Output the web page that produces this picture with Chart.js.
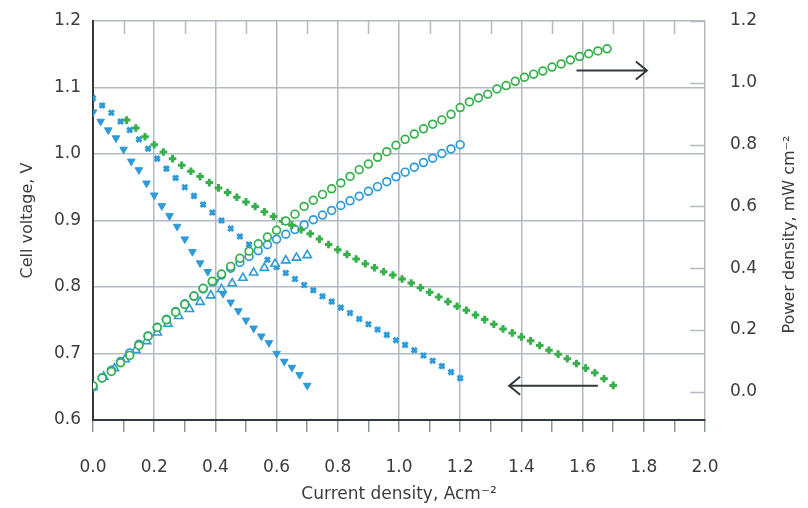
<!DOCTYPE html>
<html>
<head>
<meta charset="utf-8">
<title>Cell voltage and power density</title>
<script src="https://cdn.jsdelivr.net/npm/chart.js@4.4.1/dist/chart.umd.min.js"></script>
<style>
  html, body { margin: 0; padding: 0; background: #fff; }
  #wrap { width: 808px; height: 508px; }
</style>
</head>
<body>
<div id="wrap"><canvas id="polChart" width="808" height="508"></canvas></div>
<script>
// polarisation curves (left axis) and power curves (right axis)

// blue, filled triangles - cell voltage
const currentTriFill = [0, 0.025, 0.05, 0.075, 0.1, 0.125, 0.15, 0.175, 0.2, 0.225, 0.25, 0.275, 0.3, 0.325, 0.35,
  0.375, 0.4, 0.425, 0.45, 0.475, 0.5, 0.525, 0.55, 0.575, 0.6, 0.625, 0.65, 0.675, 0.7];
const voltageTriFill = [1.063, 1.049, 1.036, 1.024, 1.007, 0.989, 0.976, 0.956, 0.938, 0.922, 0.907, 0.891, 0.872, 0.853, 0.836,
  0.823, 0.808, 0.790, 0.777, 0.764, 0.750, 0.738, 0.726, 0.716, 0.700, 0.688, 0.679, 0.668, 0.652];

// blue, filled dots - cell voltage
const currentDotBlue = [0, 0.03, 0.06, 0.09, 0.12, 0.15, 0.18, 0.21, 0.24, 0.27, 0.3, 0.33, 0.36, 0.39, 0.42, 0.45, 0.48,
  0.51, 0.54, 0.57, 0.6, 0.63, 0.66, 0.69, 0.72, 0.75, 0.78, 0.81, 0.84, 0.87, 0.9, 0.93, 0.96, 0.99, 1.02, 1.05, 1.08,
  1.11, 1.14, 1.17, 1.2];
const voltageDotBlue = [1.084, 1.073, 1.062, 1.049, 1.036, 1.022, 1.008, 0.993, 0.978, 0.964, 0.950, 0.937, 0.924, 0.912,
  0.900, 0.888, 0.876, 0.864, 0.853, 0.841, 0.830, 0.821, 0.812, 0.803, 0.795, 0.786, 0.778, 0.769, 0.761, 0.752, 0.744,
  0.736, 0.728, 0.720, 0.713, 0.705, 0.697, 0.689, 0.681, 0.672, 0.663];

// green, filled dots - cell voltage
const currentDotGreen = [0.11, 0.14, 0.17, 0.2, 0.23, 0.26, 0.29, 0.32, 0.35, 0.38, 0.41, 0.44, 0.47, 0.5, 0.53, 0.56,
  0.59, 0.62, 0.65, 0.68, 0.71, 0.74, 0.77, 0.8, 0.83, 0.86, 0.89, 0.92, 0.95, 0.98, 1.01, 1.04, 1.07, 1.1, 1.13, 1.16,
  1.19, 1.22, 1.25, 1.28, 1.31, 1.34, 1.37, 1.4, 1.43, 1.46, 1.49, 1.52, 1.55, 1.58, 1.61, 1.64, 1.67, 1.7];
const voltageDotGreen = [1.051, 1.039, 1.026, 1.014, 1.003, 0.993, 0.983, 0.974, 0.966, 0.957, 0.949, 0.942, 0.935, 0.928,
  0.921, 0.913, 0.906, 0.899, 0.893, 0.886, 0.880, 0.872, 0.864, 0.856, 0.849, 0.842, 0.835, 0.829, 0.823, 0.818, 0.812,
  0.806, 0.799, 0.792, 0.785, 0.778, 0.771, 0.765, 0.758, 0.751, 0.744, 0.737, 0.731, 0.725, 0.719, 0.712, 0.705, 0.699,
  0.692, 0.685, 0.678, 0.671, 0.662, 0.652];

// green, open circles - power density
const currentCircGreen = [0, 0.03, 0.06, 0.09, 0.12, 0.15, 0.18, 0.21, 0.24, 0.27, 0.3, 0.33, 0.36, 0.39, 0.42, 0.45,
  0.48, 0.51, 0.54, 0.57, 0.6, 0.63, 0.66, 0.69, 0.72, 0.75, 0.78, 0.81, 0.84, 0.87, 0.9, 0.93, 0.96, 0.99, 1.02, 1.05,
  1.08, 1.11, 1.14, 1.17, 1.2, 1.23, 1.26, 1.29, 1.32, 1.35, 1.38, 1.41, 1.44, 1.47, 1.5, 1.53, 1.56, 1.59, 1.62, 1.65, 1.68];
const powerCircGreen = [0.020, 0.045, 0.066, 0.094, 0.118, 0.150, 0.180, 0.208, 0.233, 0.258, 0.283, 0.310, 0.335, 0.358,
  0.381, 0.406, 0.432, 0.455, 0.479, 0.501, 0.523, 0.553, 0.575, 0.600, 0.620, 0.639, 0.657, 0.676, 0.697, 0.719, 0.737,
  0.759, 0.777, 0.798, 0.817, 0.834, 0.851, 0.866, 0.880, 0.898, 0.920, 0.938, 0.951, 0.963, 0.980, 0.991, 1.005, 1.018,
  1.028, 1.038, 1.051, 1.061, 1.074, 1.085, 1.094, 1.103, 1.110];

// blue, open circles - power density
const currentCircBlue = [0, 0.03, 0.06, 0.09, 0.12, 0.15, 0.18, 0.21, 0.24, 0.27, 0.3, 0.33, 0.36, 0.39, 0.42, 0.45, 0.48,
  0.51, 0.54, 0.57, 0.6, 0.63, 0.66, 0.69, 0.72, 0.75, 0.78, 0.81, 0.84, 0.87, 0.9, 0.93, 0.96, 0.99, 1.02, 1.05, 1.08,
  1.11, 1.14, 1.17, 1.2];
const powerCircBlue = [0.016, 0.045, 0.070, 0.098, 0.126, 0.154, 0.181, 0.209, 0.235, 0.260, 0.285, 0.309, 0.333, 0.356,
  0.378, 0.400, 0.419, 0.438, 0.457, 0.476, 0.494, 0.510, 0.525, 0.540, 0.557, 0.572, 0.587, 0.603, 0.618, 0.633, 0.649,
  0.664, 0.680, 0.696, 0.711, 0.727, 0.742, 0.756, 0.771, 0.786, 0.800];

// blue, open triangles - power density
const currentTriOpen = [0, 0.035, 0.07, 0.105, 0.14, 0.175, 0.21, 0.245, 0.28, 0.315, 0.35, 0.385, 0.42, 0.455, 0.49,
  0.525, 0.56, 0.595, 0.63, 0.665, 0.7];
const powerTriOpen = [0.016, 0.049, 0.076, 0.105, 0.135, 0.164, 0.192, 0.220, 0.245, 0.268, 0.291, 0.312, 0.332, 0.351,
  0.369, 0.386, 0.401, 0.414, 0.425, 0.434, 0.442];

// axes
const currentTicks = [0, 0.1, 0.2, 0.3, 0.4, 0.5, 0.6, 0.7, 0.8, 0.9, 1.0, 1.1, 1.2, 1.3, 1.4, 1.5, 1.6, 1.7, 1.8, 1.9, 2.0];
const voltageTicks = [0.6, 0.7, 0.8, 0.9, 1.0, 1.1, 1.2];
const powerTicks = [0, 0.2, 0.4, 0.6, 0.8, 1.0, 1.2];
const powerTitle = 'Power density, mW cm⁻²';

// the two arrows pointing to the axis each family belongs to
const arrowPower = { from: 1.58, to: 1.81, y: 1.04 };
const arrowVoltage = { from: 1.65, to: 1.36, y: 0.02 };

const BLUE = '#2d9ad9';
const GREEN = '#36b04b';
const GRID = '#b3bac1';
const DARK = '#33383d';
const TEXT = '#3c3c3c';
const FONT = '"DejaVu Sans", "Liberation Sans", sans-serif';

const isMajor = v => Math.round(v * 10) % 2 === 0;
const pts = (xs, ys) => xs.map((x, i) => ({ x: x, y: ys[i] }));

// draws the inward minor ticks, the arrows and the right axis title (reads upward, like the left one)
const extrasPlugin = {
  id: 'extras',
  afterDatasetsDraw(chart) {
    const { ctx, chartArea } = chart;
    const xs = chart.scales.x;
    const y2 = chart.scales.y2;
    ctx.save();
    ctx.strokeStyle = GRID;
    ctx.lineWidth = 1.5;
    ctx.beginPath();
    currentTicks.filter(v => !isMajor(v)).forEach(v => {
      const px = Math.round(xs.getPixelForValue(v)) + 0.5;
      ctx.moveTo(px, chartArea.top);
      ctx.lineTo(px, chartArea.top + 13);
    });
    powerTicks.forEach(v => {
      const py = Math.round(y2.getPixelForValue(v)) + 0.5;
      ctx.moveTo(chartArea.right - 15, py);
      ctx.lineTo(chartArea.right, py);
    });
    ctx.stroke();

    ctx.strokeStyle = DARK;
    ctx.lineWidth = 2;
    [arrowPower, arrowVoltage].forEach(a => {
      const x1 = xs.getPixelForValue(a.from);
      const x2 = xs.getPixelForValue(a.to);
      const py = y2.getPixelForValue(a.y);
      const dir = x2 > x1 ? 1 : -1;
      ctx.beginPath();
      ctx.moveTo(x1, py);
      ctx.lineTo(x2, py);
      ctx.moveTo(x2 - dir * 11, py - 9);
      ctx.lineTo(x2, py);
      ctx.lineTo(x2 - dir * 11, py + 9);
      ctx.stroke();
    });

    ctx.translate(y2.right - 18, (chartArea.top + chartArea.bottom) / 2 + 14);
    ctx.rotate(-Math.PI / 2);
    ctx.font = '16px ' + FONT;
    ctx.fillStyle = TEXT;
    ctx.textAlign = 'center';
    ctx.textBaseline = 'middle';
    ctx.fillText(powerTitle, 0, 0);
    ctx.restore();
  }
};

Chart.defaults.font.family = FONT;
Chart.defaults.color = TEXT;

new Chart(document.getElementById('polChart'), {
  type: 'scatter',
  data: {
    datasets: [
      {
        label: 'Power, green',
        data: pts(currentCircGreen, powerCircGreen),
        yAxisID: 'y2',
        pointStyle: 'circle',
        pointRadius: 3.9,
        borderWidth: 1.7,
        borderColor: GREEN,
        backgroundColor: 'rgba(255,255,255,0.9)'
      },
      {
        label: 'Voltage, green',
        data: pts(currentDotGreen, voltageDotGreen),
        yAxisID: 'y',
        pointStyle: 'cross',
        pointRadius: 3.8,
        borderWidth: 3,
        borderColor: GREEN,
        backgroundColor: GREEN
      },
      {
        label: 'Power, blue circles',
        data: pts(currentCircBlue, powerCircBlue),
        yAxisID: 'y2',
        pointStyle: 'circle',
        pointRadius: 3.9,
        borderWidth: 1.7,
        borderColor: BLUE,
        backgroundColor: 'rgba(255,255,255,0.9)'
      },
      {
        label: 'Power, blue triangles',
        data: pts(currentTriOpen, powerTriOpen),
        yAxisID: 'y2',
        pointStyle: 'triangle',
        pointRadius: 4.8,
        borderWidth: 1.6,
        borderColor: BLUE,
        backgroundColor: 'rgba(255,255,255,0.9)'
      },
      {
        label: 'Voltage, blue dots',
        data: pts(currentDotBlue, voltageDotBlue),
        yAxisID: 'y',
        pointStyle: 'crossRot',
        pointRadius: 3.5,
        borderWidth: 3,
        borderColor: BLUE,
        backgroundColor: BLUE
      },
      {
        label: 'Voltage, blue triangles',
        data: pts(currentTriFill, voltageTriFill),
        yAxisID: 'y',
        pointStyle: 'triangle',
        rotation: 180,
        pointRadius: 4.4,
        borderWidth: 1,
        borderColor: BLUE,
        backgroundColor: BLUE
      }
    ]
  },
  options: {
    responsive: false,
    animation: false,
    devicePixelRatio: 1,
    layout: { padding: { top: 21, left: 0, right: 0, bottom: 0 } },
    plugins: {
      legend: { display: false },
      tooltip: { enabled: false }
    },
    scales: {
      x: {
        type: 'linear',
        min: 0,
        max: 2,
        afterBuildTicks: s => { s.ticks = currentTicks.map(v => ({ value: v })); },
        afterFit: s => { s.height = 88; s.paddingLeft = 0; s.paddingRight = 0; },
        border: { color: DARK, width: 2 },
        grid: {
          color: c => (c.tick && isMajor(c.tick.value) ? GRID : 'rgba(0,0,0,0)'),
          lineWidth: 1.5,
          tickColor: '#8d949b',
          tickWidth: 1.5,
          tickLength: 12
        },
        ticks: {
          autoSkip: false,
          maxRotation: 0,
          padding: 25,
          font: { size: 17 },
          callback: v => (isMajor(v) ? Number(v).toFixed(1) : '')
        },
        title: {
          display: true,
          text: 'Current density, Acm⁻²',
          font: { size: 17 },
          color: TEXT,
          padding: { top: 0, bottom: 3 }
        }
      },
      y: {
        type: 'linear',
        position: 'left',
        min: 0.6,
        max: 1.2,
        afterBuildTicks: s => { s.ticks = voltageTicks.map(v => ({ value: v })); },
        afterFit: s => { s.width = 93; s.paddingTop = 0; s.paddingBottom = 0; },
        border: { color: DARK, width: 2 },
        grid: { color: GRID, lineWidth: 1.5, drawTicks: false },
        ticks: {
          padding: 12,
          font: { size: 17 },
          callback: v => Number(v).toFixed(1)
        },
        title: {
          display: true,
          text: 'Cell voltage, V',
          font: { size: 16 },
          color: TEXT,
          padding: { top: 18, bottom: 0 }
        }
      },
      y2: {
        type: 'linear',
        position: 'right',
        min: -0.091,
        max: 1.2,
        afterBuildTicks: s => { s.ticks = powerTicks.map(v => ({ value: v })); },
        afterFit: s => { s.width = 103; s.paddingTop = 0; s.paddingBottom = 0; },
        border: { display: false },
        grid: { display: false, drawOnChartArea: false, drawTicks: false },
        ticks: {
          padding: 25,
          font: { size: 17 },
          callback: v => Number(v).toFixed(1)
        }
      }
    }
  },
  plugins: [extrasPlugin]
});
</script>
</body>
</html>
